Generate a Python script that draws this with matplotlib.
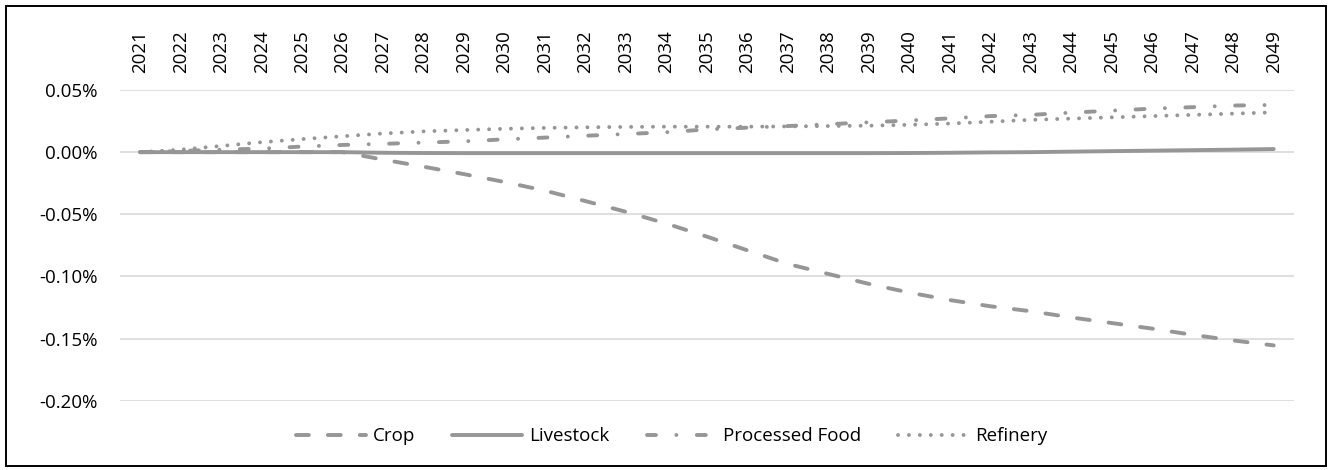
import matplotlib
matplotlib.use("Agg")
import matplotlib.pyplot as plt
from matplotlib.patches import Rectangle
from matplotlib.ticker import FuncFormatter

plt.rcParams['font.family'] = ['Open Sans', 'DejaVu Sans']

# data (values in percent)
years = [str(y) for y in range(2021, 2050)]
crop = [0, 0, 0, 0, 0, 0, -0.006, -0.0117, -0.0177, -0.024, -0.031, -0.0394,
        -0.048, -0.0575, -0.068, -0.079, -0.090, -0.098, -0.106, -0.113,
        -0.119, -0.124, -0.128, -0.133, -0.1375, -0.142, -0.147, -0.1515, -0.1555]
livestock = [0, 0, 0, 0, 0, 0, -0.0005, -0.0007, -0.0008, -0.0008, -0.0008,
             -0.0008, -0.0008, -0.0008, -0.0008, -0.0008, -0.0008, -0.0008,
             -0.0008, -0.0007, -0.0005, -0.0002, 0.0, 0.0004, 0.0008, 0.0012,
             0.0016, 0.002, 0.0025]
processed_food = [0, 0.001, 0.002, 0.0028, 0.0045, 0.0058, 0.0067, 0.0077,
                  0.0087, 0.0103, 0.0117, 0.0132, 0.0146, 0.016, 0.0183,
                  0.0197, 0.021, 0.0225, 0.024, 0.0255, 0.0272, 0.029, 0.030,
                  0.0318, 0.0334, 0.035, 0.0362, 0.0375, 0.038]
refinery = [0, 0.002, 0.005, 0.008, 0.0105, 0.0128, 0.015, 0.0167, 0.0178,
            0.0188, 0.0195, 0.020, 0.0203, 0.0205, 0.0205, 0.0205, 0.0207,
            0.021, 0.0213, 0.022, 0.023, 0.0245, 0.026, 0.027, 0.028, 0.029,
            0.030, 0.031, 0.032]

grey = '#969696'
lw = 2.8

fig = plt.figure(figsize=(13.3, 4.7), dpi=100)
ax = fig.add_axes([0.0902, 0.1474, 0.8827, 0.6611])

x = range(len(years))
ax.plot(x, crop, color=grey, lw=lw, dashes=(3.3, 4.9), dash_capstyle='round', label='Crop')
ax.plot(x, livestock, color=grey, lw=lw, solid_capstyle='round', label='Livestock')
ax.plot(x, processed_food, color=grey, lw=lw, dashes=(2.3, 5.25, 0.01, 5.25),
        dash_capstyle='round', label='Processed Food')
ax.plot(x, refinery, color=grey, lw=lw, dashes=(0.01, 2.8), dash_capstyle='round',
        label='Refinery')

ax.set_xlim(-0.5, len(years) - 0.5)
ax.set_ylim(-0.20, 0.05)
ax.set_yticks([-0.20, -0.15, -0.10, -0.05, 0.00, 0.05])
ax.yaxis.set_major_formatter(FuncFormatter(lambda v, p: f'{v:.2f}%'))
ax.set_xticks(list(x))
ax.set_xticklabels(years, rotation=90)
ax.xaxis.tick_top()
ax.tick_params(axis='x', length=0, pad=12, labelsize=13.5)
ax.tick_params(axis='y', length=0, pad=16, labelsize=13.5)
ax.grid(axis='y', color='#d9d9d9', lw=1.2)
ax.set_axisbelow(True)
for s in ax.spines.values():
    s.set_visible(False)

fig.legend(loc='center', bbox_to_anchor=(0.505, 0.072), ncol=4, frameon=False,
           fontsize=13.5, handlelength=3.7, handletextpad=0.37, columnspacing=2.0)

fig.patches.append(Rectangle((6 / 1330, 4 / 470), 1320 / 1330, 460 / 470,
                             transform=fig.transFigure, fill=False,
                             edgecolor='black', lw=1.4))

fig.savefig('out.png', dpi=100)
